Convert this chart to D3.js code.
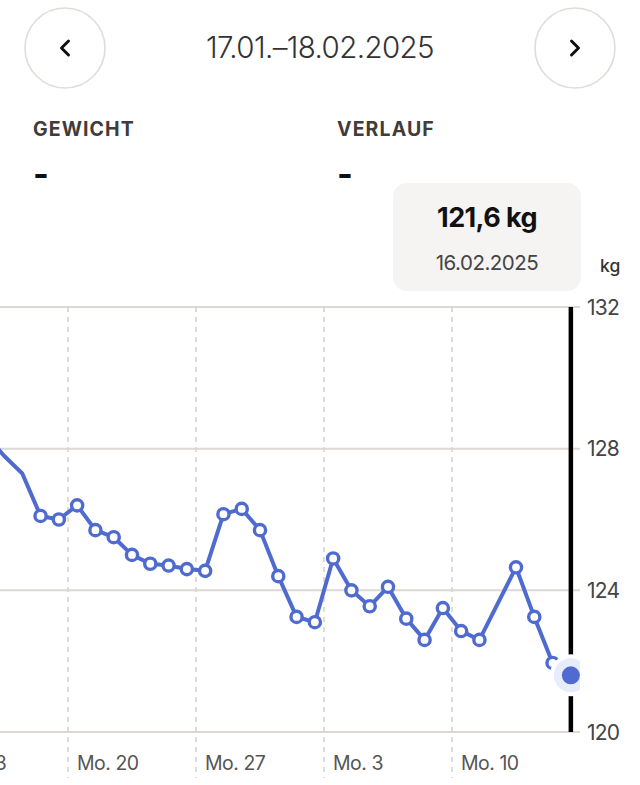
<!DOCTYPE html>
<html lang="de">
<head>
  <meta charset="UTF-8">
  <title>Gewicht</title>
  <script src="https://d3js.org/d3.v7.min.js"></script>
  <style>
    body, html {
      margin: 0;
      padding: 0;
      background: #fff;
    }
    svg {
      display: block;
      font-family: Inter, "Noto Sans", sans-serif;
    }
    .title { font-size: 29.5px; font-weight: 300; fill: #333; letter-spacing: -0.6px; }
    .label { font-size: 19.5px; font-weight: 700; fill: #403c39; letter-spacing: 1.1px; }
    .dash { font-size: 34px; font-weight: 700; fill: #111; }
    .tip-value { font-size: 27px; font-weight: 700; fill: #111; letter-spacing: -0.6px; }
    .tip-date { font-size: 20.5px; font-weight: 400; fill: #444; letter-spacing: -0.5px; }
    .unit { font-size: 17.5px; font-weight: 500; fill: #333; }
    .ytick { font-size: 21px; font-weight: 400; fill: #444; letter-spacing: -0.8px; }
    .xtick { font-size: 19.5px; font-weight: 400; fill: #555; letter-spacing: -0.5px; }
  </style>
</head>
<body>
<svg width="640" height="785"></svg>
<script>
  // daily weights (kg), measured around noon; 12.02. has no entry
  const dates = [
    "2025-01-15", "2025-01-16", "2025-01-17", "2025-01-18", "2025-01-19",
    "2025-01-20", "2025-01-21", "2025-01-22", "2025-01-23", "2025-01-24",
    "2025-01-25", "2025-01-26", "2025-01-27", "2025-01-28", "2025-01-29",
    "2025-01-30", "2025-01-31", "2025-02-01", "2025-02-02", "2025-02-03",
    "2025-02-04", "2025-02-05", "2025-02-06", "2025-02-07", "2025-02-08",
    "2025-02-09", "2025-02-10", "2025-02-11", "2025-02-13", "2025-02-14",
    "2025-02-15", "2025-02-16"
  ];
  const weights = [
    128.4, 127.8, 127.3, 126.1, 126.0,
    126.4, 125.7, 125.5, 125.0, 124.75,
    124.7, 124.6, 124.55, 126.15, 126.3,
    125.7, 124.4, 123.25, 123.1, 124.9,
    124.0, 123.55, 124.1, 123.2, 122.6,
    123.5, 122.85, 122.6, 124.65, 123.25,
    121.95, 121.6
  ];
  const yTicks = [120, 124, 128, 132];
  const mondays = ["2025-01-13", "2025-01-20", "2025-01-27", "2025-02-03", "2025-02-10"];
  const mondayLabels = ["Mo. 13", "Mo. 20", "Mo. 27", "Mo. 3", "Mo. 10"];
  const rangeLabel = "17.01.–18.02.2025";
  const markersFrom = "2025-01-18";
  const selectedDate = "2025-02-16";

  const parse = d3.timeParse("%Y-%m-%d");
  const noon = s => d3.timeHour.offset(parse(s), 12);
  const data = dates.map((d, i) => ({ day: d, date: noon(d), value: weights[i] }));

  const plotRight = 580;
  const svg = d3.select("svg");

  const x = d3.scaleTime()
    .domain([parse("2025-01-20"), parse("2025-02-17")])
    .range([68, plotRight]);

  const y = d3.scaleLinear()
    .domain([120, 132])
    .range([732, 307]);

  // header
  svg.append("text").attr("class", "title")
    .attr("x", 320).attr("y", 58).attr("text-anchor", "middle")
    .text(rangeLabel);

  [65, 575].forEach((cx, i) => {
    svg.append("circle")
      .attr("cx", cx).attr("cy", 48).attr("r", 40)
      .attr("fill", "#fff").attr("stroke", "#e0dcd8").attr("stroke-width", 1.6);
    const s = i === 0 ? -1 : 1;
    svg.append("path")
      .attr("d", `M${cx - 3.5 * s},41 L${cx + 3.5 * s},48 L${cx - 3.5 * s},55`)
      .attr("fill", "none").attr("stroke", "#111")
      .attr("stroke-width", 3).attr("stroke-linecap", "round").attr("stroke-linejoin", "round");
  });

  [["GEWICHT", 33], ["VERLAUF", 337]].forEach(([t, lx]) => {
    svg.append("text").attr("class", "label").attr("x", lx).attr("y", 136).text(t);
    svg.append("text").attr("class", "dash").attr("x", lx).attr("y", 186).text("-");
  });

  // plot clip
  svg.append("clipPath").attr("id", "plot")
    .append("rect").attr("x", 0).attr("y", 280).attr("width", plotRight).attr("height", 505);

  // horizontal grid
  svg.append("g")
    .selectAll("line")
    .data(yTicks)
    .join("line")
    .attr("x1", 0).attr("x2", plotRight)
    .attr("y1", d => y(d)).attr("y2", d => y(d))
    .attr("stroke", "#ddd8d3").attr("stroke-width", 2);

  // vertical dashed week lines
  svg.append("g")
    .selectAll("line")
    .data(mondays.map(parse))
    .join("line")
    .attr("x1", d => x(d)).attr("x2", d => x(d))
    .attr("y1", y(132)).attr("y2", 778)
    .attr("stroke", "#d6d1cc").attr("stroke-width", 1.5)
    .attr("stroke-dasharray", "5,5");

  // x labels
  svg.append("g")
    .selectAll("text")
    .data(mondays)
    .join("text")
    .attr("class", "xtick")
    .attr("x", d => x(parse(d)) + 9)
    .attr("y", 770)
    .text((d, i) => mondayLabels[i]);

  // y labels
  svg.append("g")
    .selectAll("text")
    .data(yTicks)
    .join("text")
    .attr("class", "ytick")
    .attr("x", 587)
    .attr("y", d => y(d))
    .attr("dy", "0.36em")
    .text(d => d);

  svg.append("text").attr("class", "unit").attr("x", 600).attr("y", 272).text("kg");

  const plot = svg.append("g").attr("clip-path", "url(#plot)");

  const line = d3.line()
    .x(d => x(d.date))
    .y(d => y(d.value));

  plot.append("path")
    .datum(data)
    .attr("d", line)
    .attr("fill", "none")
    .attr("stroke", "#506bd0")
    .attr("stroke-width", 4)
    .attr("stroke-linejoin", "round");

  plot.selectAll("circle.pt")
    .data(data.filter(d => d.day >= markersFrom && d.day !== selectedDate))
    .join("circle")
    .attr("class", "pt")
    .attr("cx", d => x(d.date))
    .attr("cy", d => y(d.value))
    .attr("r", 5.6)
    .attr("fill", "#fff")
    .attr("stroke", "#506bd0")
    .attr("stroke-width", 3.4);

  // selected point
  const sel = data.find(d => d.day === selectedDate);
  const sx = x(sel.date), sy = y(sel.value);

  plot.append("line")
    .attr("x1", sx).attr("x2", sx)
    .attr("y1", y(132)).attr("y2", y(120))
    .attr("stroke", "#000").attr("stroke-width", 4.5);

  plot.append("circle").attr("cx", sx).attr("cy", sy).attr("r", 21).attr("fill", "#fff");
  plot.append("circle").attr("cx", sx).attr("cy", sy).attr("r", 17).attr("fill", "#e6ecfc");
  plot.append("circle").attr("cx", sx).attr("cy", sy).attr("r", 9).attr("fill", "#506bd0");

  // tooltip
  const tipW = 188, tipH = 108;
  const tipCx = Math.min(sx, plotRight + 1 - tipW / 2);
  svg.append("rect")
    .attr("x", tipCx - tipW / 2).attr("y", 183)
    .attr("width", tipW).attr("height", tipH)
    .attr("rx", 14).attr("fill", "#f5f4f2");

  svg.append("text").attr("class", "tip-value")
    .attr("x", tipCx).attr("y", 227).attr("text-anchor", "middle")
    .text(sel.value.toFixed(1).replace(".", ",") + " kg");

  svg.append("text").attr("class", "tip-date")
    .attr("x", tipCx).attr("y", 270).attr("text-anchor", "middle")
    .text(d3.timeFormat("%d.%m.%Y")(parse(sel.day)));
</script>
</body>
</html>
